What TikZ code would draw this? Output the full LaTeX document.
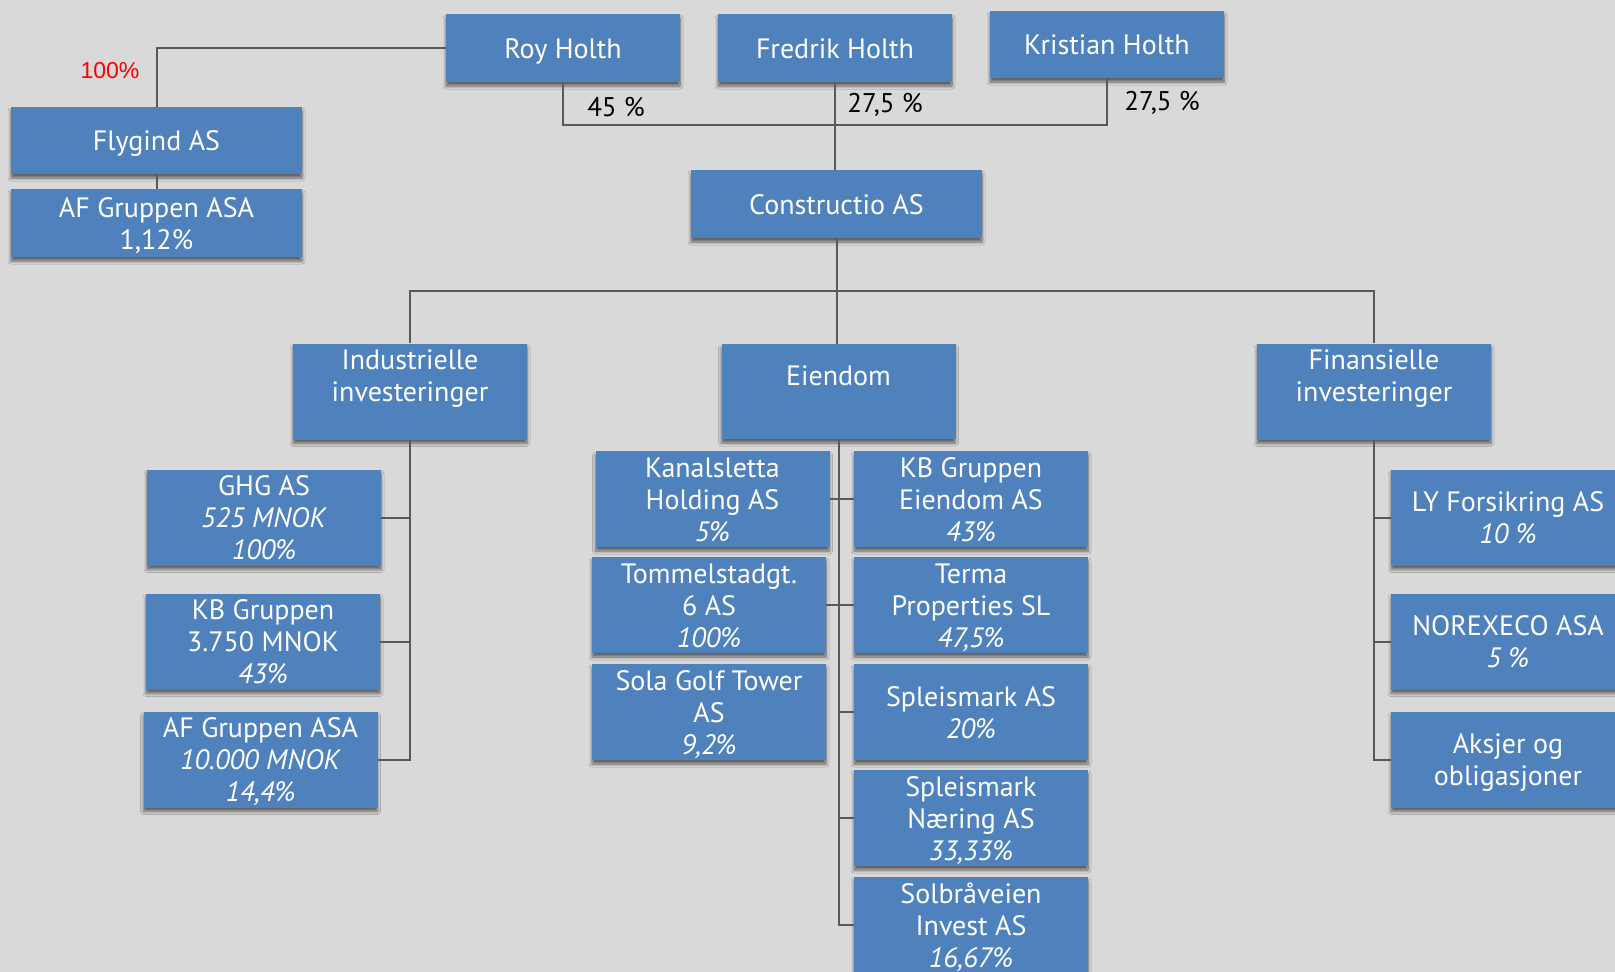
\documentclass[tikz,border=0pt]{standalone}
\usepackage{fontspec}
\setmainfont{PT Sans}
\newfontfamily\arialfont{Liberation Sans}
\usetikzlibrary{shadows.blur}
\definecolor{boxblue}{HTML}{4F81BD}
\definecolor{bg}{HTML}{D9D9D9}
\definecolor{linegray}{HTML}{595959}
\newcommand\ts{\rule{0pt}{26pt}}
\newcommand\bs{\rule[-6pt]{0pt}{6pt}}
\begin{document}
\begin{tikzpicture}[x=1pt,y=-1pt,
  box/.style={rectangle, fill=boxblue, text=white, inner sep=0pt, align=center,
    font=\fontsize{28}{32}\selectfont, minimum width=234pt, minimum height=96pt,
    blur shadow={shadow xshift=0pt, shadow yshift=-4pt, shadow blur radius=3pt, shadow blur steps=6, shadow opacity=55}},
  conn/.style={draw=linegray, line width=2pt},
  pct/.style={font=\fontsize{27}{30}\selectfont, text=black, inner sep=0pt}]
\fill[bg] (0,0) rectangle (1615,972);
\useasboundingbox (0,0) rectangle (1615,972);

% owners
\node[box, minimum height=68pt] (roy) at (563,48) {\ts Roy Holth\bs};
\node[box, minimum height=68pt] (fredrik) at (835,48) {\ts Fredrik Holth\bs};
\node[box, minimum height=67pt] (kristian) at (1107,44.5) {\ts Kristian Holth\bs};
\node[box, minimum width=291pt, minimum height=67pt] (flygind) at (156.5,140.5) {\ts Flygind AS\bs};
\node[box, minimum width=291pt, minimum height=68pt] (afg1) at (156.5,223) {\ts AF Gruppen ASA\\1,12\%\bs};
\node[box, minimum width=291pt, minimum height=68pt] (constructio) at (836.5,204) {\ts Constructio AS\bs};

% divisions
\node[box, minimum height=95pt] (ind) at (410,391.5) {\ts Industrielle\\investeringer\\\mbox{}\bs};
\node[box, minimum height=95pt] (eie) at (838.5,391.5) {\ts Eiendom\\\mbox{}\bs};
\node[box, minimum height=95pt] (fin) at (1374,391.5) {\ts Finansielle\\investeringer\\\mbox{}\bs};

% industrial
\node[box] (ghg) at (264,517.5) {\ts GHG AS\\\textit{525 MNOK}\\\textit{100\%}\bs};
\node[box] (kbg) at (263,641.5) {\ts KB Gruppen\\3.750 MNOK\\\textit{43\%}\bs};
\node[box] (afg2) at (260.5,759.5) {\ts AF Gruppen ASA\\\textit{10.000 MNOK}\\\textit{14,4\%}\bs};

% real estate
\node[box] (kanal) at (712.5,499) {\ts Kanalsletta\\Holding AS\\\textit{5\%}\bs};
\node[box] (tommel) at (709,605) {\ts Tommelstadgt.\\6 AS\\\textit{100\%}\bs};
\node[box] (sola) at (709,712) {\ts Sola Golf Tower\\AS\\\textit{9,2\%}\bs};
\node[box] (kbge) at (971,499) {\ts KB Gruppen\\Eiendom AS\\\textit{43\%}\bs};
\node[box] (terma) at (971,605) {\ts Terma\\Properties SL\\\textit{47,5\%}\bs};
\node[box] (spleis) at (971,712) {\ts Spleismark AS\\\textit{20\%}\bs};
\node[box] (naering) at (971,818) {\ts Spleismark\\Næring AS\\\textit{33,33\%}\bs};
\node[box] (solbr) at (971,925) {\ts Solbråveien\\Invest AS\\\textit{16,67\%}\bs};

% financial
\node[box] (ly) at (1508,517.5) {\ts LY Forsikring AS\\\textit{10 \%}\bs};
\node[box] (norex) at (1508,641.5) {\ts NOREXECO ASA\\\textit{5 \%}\bs};
\node[box] (aksjer) at (1508,759.5) {\ts Aksjer og\\obligasjoner\bs};

% connectors
\coordinate (j) at (836,125);
\coordinate (h) at (837,291);
\draw[conn] (roy.west) -| (flygind.north);
\draw[conn] (flygind.south) -- (afg1.north);
\draw[conn] (roy.south) |- (j) -| (kristian.south);
\draw[conn] (fredrik.south) -- (fredrik.south |- constructio.north);
\draw[conn] (constructio.south) -- (constructio.south |- h);
\draw[conn] (ind.north) |- (h) -| (fin.north);
\draw[conn] (h) -- (h |- eie.north);

\draw[conn] (ind.south) |- (ghg.east);
\draw[conn] (ind.south) |- (kbg.east);
\draw[conn] (ind.south) |- (afg2.east);

\draw[conn] (eie.south) |- (solbr.west);
\draw[conn] (eie.south) |- (naering.west);
\draw[conn] (eie.south) |- (spleis.west);
\draw[conn] (kanal.east) -- (kbge.west);
\draw[conn] (tommel.east) -- (terma.west);

\draw[conn] (fin.south) |- (ly.west);
\draw[conn] (fin.south) |- (norex.west);
\draw[conn] (fin.south) |- (aksjer.west);

% percentage labels
\node[pct] (p1) at (616,107) {45 \%};
\node[pct] (p2) at (885,105) {27,5 \%};
\node[pct] (p3) at (1162,103) {27,5 \%};
\node[inner sep=0pt, text=red, font=\arialfont\fontsize{23}{26}\selectfont] (p4) at (110,71) {100\%};
\end{tikzpicture}
\end{document}
